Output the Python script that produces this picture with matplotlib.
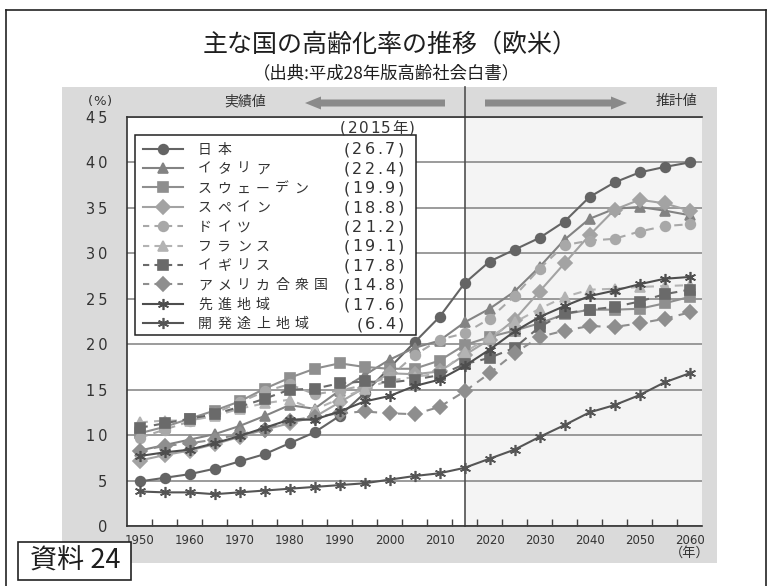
import matplotlib
matplotlib.use("Agg")
import matplotlib.pyplot as plt
from matplotlib.lines import Line2D
from matplotlib.patches import Rectangle, Polygon

plt.rcParams["font.family"] = ["Noto Sans CJK JP", "DejaVu Sans"]

W, H = 770, 586

# 高齢化率 (%), 1950-2060, 5年おき
years = list(range(1950, 2061, 5))
japan = [4.9, 5.3, 5.7, 6.3, 7.1, 7.9, 9.1, 10.3, 12.1, 14.6, 17.4, 20.2, 23.0,
         26.7, 29.1, 30.4, 31.7, 33.5, 36.2, 37.8, 38.9, 39.5, 40.0]
italy = [8.3, 8.9, 9.5, 10.1, 11.0, 12.1, 13.3, 12.9, 14.9, 16.6, 18.3, 19.6, 20.4,
         22.4, 23.9, 25.8, 28.5, 31.5, 33.8, 34.9, 35.1, 34.7, 34.2]
sweden = [10.2, 10.9, 11.8, 12.7, 13.7, 15.1, 16.3, 17.3, 17.9, 17.5, 17.3, 17.3, 18.2,
          19.9, 20.8, 21.5, 22.3, 23.3, 23.8, 23.8, 23.9, 24.5, 25.2]
spain = [7.2, 7.8, 8.3, 9.0, 9.8, 10.6, 11.3, 12.0, 13.6, 15.2, 16.8, 16.7, 17.0,
         18.8, 20.5, 22.7, 25.8, 28.9, 32.0, 34.8, 35.9, 35.5, 34.7]
germany = [9.7, 10.6, 11.5, 12.4, 13.6, 14.8, 15.6, 14.5, 14.9, 15.5, 16.4, 18.8, 20.5,
           21.2, 22.8, 25.3, 28.3, 30.9, 31.4, 31.6, 32.4, 33.0, 33.2]
france = [11.4, 11.6, 11.6, 12.1, 12.9, 13.5, 13.9, 12.8, 14.0, 15.1, 16.0, 16.4, 16.8,
          19.1, 20.8, 22.4, 23.9, 25.2, 26.0, 26.1, 26.3, 26.4, 26.5]
uk = [10.8, 11.3, 11.8, 12.3, 13.1, 14.0, 15.0, 15.1, 15.7, 15.9, 15.8, 16.1, 16.6,
      17.8, 18.5, 19.6, 21.9, 23.4, 23.8, 24.1, 24.7, 25.5, 26.0]
usa = [8.3, 8.8, 9.1, 9.5, 10.1, 10.6, 11.6, 12.0, 12.4, 12.6, 12.4, 12.3, 13.1,
       14.8, 16.8, 19.0, 20.8, 21.5, 22.0, 21.9, 22.3, 22.8, 23.5]
developed = [7.7, 8.1, 8.4, 9.1, 9.9, 10.8, 11.7, 11.7, 12.6, 13.7, 14.3, 15.4, 16.1,
             17.6, 19.4, 21.4, 23.0, 24.2, 25.3, 25.9, 26.6, 27.2, 27.4]
developing = [3.8, 3.7, 3.7, 3.5, 3.7, 3.9, 4.1, 4.3, 4.5, 4.7, 5.1, 5.5, 5.8,
              6.4, 7.4, 8.4, 9.8, 11.1, 12.5, 13.3, 14.4, 15.8, 16.8]

names = ["日本", "イタリア", "スウェーデン", "スペイン", "ドイツ", "フランス",
         "イギリス", "アメリカ合衆国", "先進地域", "開発途上地域"]
values = [japan, italy, sweden, spain, germany, france, uk, usa, developed, developing]
base_year = 2015

ASTER = (6, 2, 0)
styles = [
    ("-", "o", "#646464"),
    ("-", "^", "#838383"),
    ("-", "s", "#8f8f8f"),
    ("-", "D", "#a3a3a3"),
    ("--", "o", "#a8a8a8"),
    ("--", "^", "#b3b3b3"),
    ("--", "s", "#6a6a6a"),
    ("--", "D", "#8e8e8e"),
    ("-", ASTER, "#4e4e4e"),
    ("-", ASTER, "#555555"),
]

TXT = "#333333"
# rough advance widths (em) for per-character placement
ADV = {"(": 0.39, ")": 0.39, ".": 0.318, "%": 0.95}


def fx(px):
    return px / W


def fy(py):
    return 1 - py / H


def tracked(x, y, s, size, track, ha="left", **kw):
    """Place text one glyph at a time with extra letter spacing (pixels)."""
    em = size * 100 / 72
    widths = [ADV.get(c, 0.636 if c.isdigit() else 1.0) * em for c in s]
    total = sum(widths) + track * (len(s) - 1)
    if ha == "right":
        x -= total
    elif ha == "center":
        x -= total / 2
    base = y + 0.37 * em
    for c, w in zip(s, widths):
        fig.text(fx(x), fy(base), c, ha="left", va="baseline", fontsize=size,
                 family=["DejaVu Sans", "Noto Sans CJK JP"], **kw)
        x += w + track


fig = plt.figure(figsize=(W / 100, H / 100), dpi=100)

# outer frame
for xs, ys in [((6.5, 6.5), (586, 9.5)), ((6.5, 766), (9.5, 9.5)), ((766, 766), (9.5, 586))]:
    fig.add_artist(Line2D([fx(x) for x in xs], [fy(y) for y in ys],
                          color="#222222", lw=1.2))

fig.text(fx(390), fy(45), "主な国の高齢化率の推移（欧米）", ha="center", va="center",
         fontsize=18, color="#1e1e1e")
fig.text(fx(386), fy(73), "（出典:平成28年版高齢社会白書）", ha="center", va="center",
         fontsize=12.5, color="#1e1e1e")

# gray panel behind the chart
fig.add_artist(Rectangle((fx(62), fy(563)), fx(717) - fx(62), fy(87) - fy(563),
                         transform=fig.transFigure, facecolor="#dadada",
                         edgecolor="none", zorder=-2))

ax = fig.add_axes([fx(127), fy(526), fx(702) - fx(127), fy(117) - fy(526)])
ax.set_facecolor("white")
ax.set_xlim(1947.5, 2062.5)
ax.set_ylim(0, 45)
ax.axvspan(base_year, 2062.5, color="#f4f4f4", zorder=0, lw=0)

yt = list(range(0, 50, 5))
ax.set_yticks(yt, ["\u2009".join(str(v)) for v in yt])
ax.grid(axis="y", color="#8a8a8a", lw=1.2, zorder=1)
ax.tick_params(axis="y", length=0, pad=14, labelsize=10.5, labelcolor=TXT)

ax.set_xticks(range(1950, 2061, 10), [str(y) for y in range(1950, 2061, 10)])
ax.set_xticks([y + 2.5 for y in years[:-1]], minor=True)
ax.tick_params(axis="x", which="major", length=0, pad=6, labelsize=8.5,
               labelcolor=TXT)
ax.tick_params(axis="x", which="minor", direction="in", length=5, width=1,
               color="#444444")
for lab in ax.get_xticklabels() + ax.get_yticklabels():
    lab.set_fontfamily(["DejaVu Sans"])
for side in ["left", "bottom", "top"]:
    ax.spines[side].set_color("#333333")
    ax.spines[side].set_linewidth(1.2)
ax.spines["right"].set_visible(False)

# boundary between actual and projected values
ax.plot([base_year, base_year], [0, 45 * (526 - 87) / 409], color="#505050",
        lw=1.2, clip_on=False, zorder=2)

for vals, (ls, mk, col) in zip(values, styles):
    ms = 8 if mk == ASTER else 7
    kw = dict(dashes=(4, 3)) if ls == "--" else {}
    ax.plot(years, vals, ls, marker=mk, color=col, ms=ms, mew=1.2, lw=1.5,
            mec=col, mfc=col, zorder=3, **kw)

tracked(100, 100, "(%)", 9.5, 1, ha="center", color=TXT)
fig.text(fx(690), fy(553), "（年）", ha="center", va="center", fontsize=9.5,
         color=TXT)

# header: actual / projected arrows
fig.text(fx(245), fy(101), "実績値", ha="center", va="center", fontsize=10,
         color=TXT)
fig.text(fx(676), fy(101), "推計値", ha="center", va="center", fontsize=10,
         color=TXT)


def arrow(tail, tip, yc):
    d = 1 if tip > tail else -1
    base = tip - d * 16
    pts = [(tail, yc - 3.5), (base, yc - 3.5), (base, yc - 6.5), (tip, yc),
           (base, yc + 6.5), (base, yc + 3.5), (tail, yc + 3.5)]
    fig.add_artist(Polygon([(fx(x), fy(y)) for x, y in pts], closed=True,
                           transform=fig.transFigure, facecolor="#8a8a8a",
                           edgecolor="none"))


arrow(445, 305, 103)
arrow(485, 627, 103)

# legend with 2015 values
fig.add_artist(Rectangle((fx(135), fy(335)), fx(416) - fx(135), fy(135) - fy(335),
                         transform=fig.transFigure, facecolor="white",
                         edgecolor="#222222", lw=1.1, zorder=4))
tracked(415, 127, f"({base_year}年)", 11, 1.5, ha="right", color=TXT, zorder=5)
idx = years.index(base_year)
for i, (name, vals, (ls, mk, col)) in enumerate(zip(names, values, styles)):
    yy = 148.5 + 19.4 * i
    kw = dict(dashes=(3, 2.5)) if ls == "--" else {}
    fig.add_artist(Line2D([fx(143), fx(183)], [fy(yy), fy(yy)], ls=ls, color=col,
                          lw=1.5, zorder=5, **kw))
    fig.add_artist(Line2D([fx(163)], [fy(yy)], marker=mk, color=col, mec=col,
                          mfc=col, ms=7 if mk != ASTER else 8, mew=1.2, zorder=6))
    em = 10 * 100 / 72
    for k, ch in enumerate(name):
        fig.text(fx(198 + 19.3 * k), fy(yy + 0.37 * em), ch, ha="left",
                 va="baseline", fontsize=10, color=TXT, zorder=6)
    tracked(404, yy, f"({vals[idx]:.1f})", 11.5, 2.5, ha="right", color=TXT,
            zorder=6)

# document label
fig.add_artist(Rectangle((fx(18), fy(580)), fx(131) - fx(18), fy(542) - fy(580),
                         transform=fig.transFigure, facecolor="white",
                         edgecolor="#222222", lw=1.2, zorder=4))
fig.text(fx(75), fy(561), "資料 24", ha="center", va="center", fontsize=19.5,
         color="#1e1e1e", zorder=5)

fig.savefig("out.png", dpi=100)
